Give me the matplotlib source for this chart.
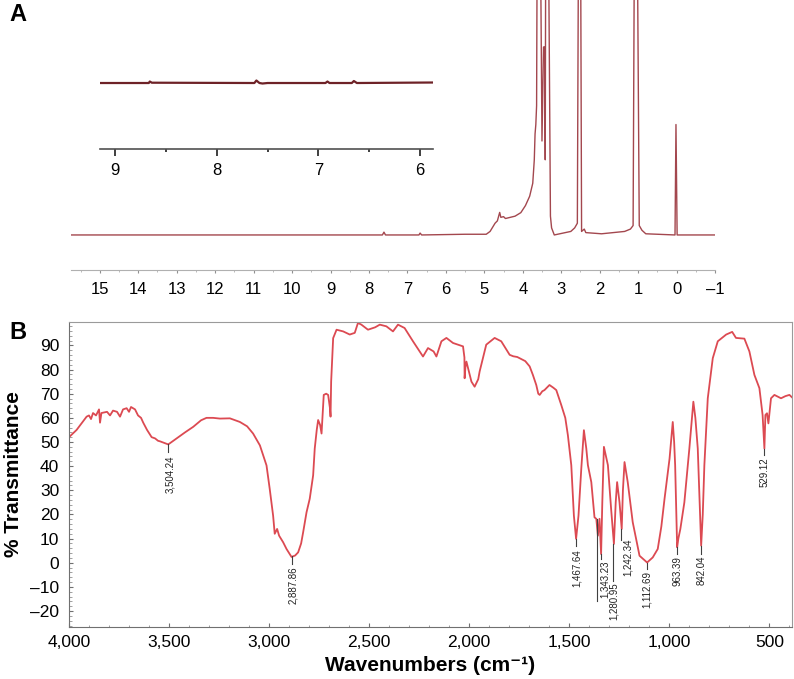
import matplotlib
matplotlib.use("Agg")
import matplotlib.pyplot as plt
from matplotlib.ticker import MultipleLocator, FuncFormatter

plt.rcParams['font.family'] = ['Liberation Sans', 'DejaVu Sans']

# ---- panel A: 1H NMR (chemical shift in ppm, relative intensity, 100 = top of frame)
nmr_shift = [15.75, 9.0, 7.65, 7.61, 7.57, 6.70, 6.67, 6.63, 5.5, 4.95, 4.85, 4.72, 4.66,
             4.60, 4.57, 4.50, 4.45, 4.35, 4.20, 4.05, 3.93, 3.82, 3.74, 3.70, 3.68, 3.66,
             3.64, 3.62, 3.55, 3.50, 3.46, 3.43, 3.415, 3.40, 3.34, 3.28, 3.25, 3.18,
             2.75, 2.65, 2.58, 2.545, 2.50, 2.47, 2.40, 2.36, 1.95, 1.35, 1.20, 1.13,
             1.09, 1.03, 0.97, 0.90, 0.80, 0.04, 0.015, -0.015, -1.0]
nmr_int = [0, 0, 0, 1.2, 0, 0, 0.8, 0, 0.3, 0.3, 1.5, 5.0, 6.0,
           9.6, 7.5, 7.8, 7.0, 7.4, 8.0, 9.5, 12.5, 16.5, 22, 32, 43, 47,
           55, 150, 150, 40, 80, 80, 32, 150, 150, 8, 3, 0,
           1.5, 3, 5, 150, 150, 1.5, 2.5, 1, 0.5, 1.5, 2.5, 4,
           150, 150, 4, 2, 0.5, 0, 47, 0, 0]

# inset: expanded 9.15-5.87 ppm region
inset_shift = [9.15, 8.67, 8.66, 8.64, 7.63, 7.61, 7.58, 7.55, 7.50, 6.93, 6.91,
               6.89, 6.67, 6.65, 6.62, 5.87]
inset_int = [0, 0, 1.5, 0.3, 0, 2.5, 0, -0.5, 0, 0, 1.5, 0, 0, 2, 0, 0.5]

# ---- panel B: FTIR spectrum
ir_wn = [4000, 3962, 3930, 3912, 3900, 3890, 3880, 3865, 3850, 3845, 3838, 3810, 3795,
         3780, 3760, 3745, 3730, 3712, 3700, 3690, 3670, 3655, 3640, 3629, 3610, 3595,
         3587, 3570, 3555, 3546, 3520, 3504, 3462, 3420, 3379, 3340, 3313, 3280, 3246,
         3196, 3146, 3110, 3080, 3046, 3013, 2997, 2980, 2972, 2960, 2950, 2930, 2913,
         2888, 2870, 2855, 2840, 2830, 2813, 2797, 2780, 2772, 2762, 2755, 2745, 2738,
         2732, 2727, 2715, 2705, 2696, 2693, 2690, 2680, 2663, 2630, 2597, 2572, 2556,
         2539, 2506, 2470, 2447, 2414, 2381, 2356, 2323, 2281, 2231, 2206, 2178, 2164,
         2139, 2114, 2081, 2045, 2031, 2024, 2023, 2019, 2014, 1989, 1973, 1955, 1948,
         1915, 1873, 1840, 1820, 1798, 1780, 1760, 1748, 1720, 1698, 1682, 1665, 1655,
         1648, 1635, 1624, 1599, 1580, 1565, 1555, 1540, 1520, 1507, 1490, 1477, 1466,
         1454, 1440, 1427, 1415, 1407, 1390, 1374, 1365, 1357, 1349, 1341, 1335, 1327,
         1307, 1291, 1277, 1268, 1261, 1249, 1238, 1232, 1224, 1208, 1183, 1149, 1130,
         1111, 1083, 1070, 1058, 1040, 1024, 999, 983, 976, 971, 961, 955, 945, 925,
         900, 880, 870, 858, 841, 833, 825, 808, 783, 758, 716, 686, 667, 625, 600,
         575, 550, 534, 525, 520, 512, 505, 492, 475, 442, 420, 400, 387]
ir_t = [52, 55, 58.5, 60.5, 61, 59.5, 62, 61, 63.5, 58, 62, 62.5, 61,
        63, 62.5, 60.5, 63.5, 64, 62.5, 64.5, 63.5, 61, 60, 58, 55, 53,
        52, 51.5, 50.5, 50.3, 49.5, 49, 51.5, 54, 56.3, 59, 60, 60, 59.7,
        59.8, 58.3, 56.5, 53.5, 48.6, 40.3, 30.6, 19.5, 12, 14, 11.2, 8.5, 5.7,
        2.4, 3, 4.3, 8, 12.6, 20.9, 26.5, 36.2, 47.3, 55, 59.1, 57, 53.5,
        62, 69.5, 70, 69.5, 64, 60.5, 75, 93, 96.5, 95.8, 94.5, 95.2, 99.3,
        98.6, 96.5, 97.5, 98.6, 97.9, 95.8, 98.6, 97.2, 91.7, 85.4, 88.9, 87.5, 85.4,
        91.7, 93.1, 91, 90, 89.6, 85, 76.4, 81, 83.3, 75, 72.9, 76, 79.2,
        90.3, 93.1, 91.7, 89, 86.1, 85.5, 85.2, 84.7, 83.5, 81.3, 77.8, 73.6, 70,
        69.5, 71, 71.5, 73.6, 72.5, 71.5, 69, 65.3, 60, 52.8, 40.4, 19.5, 9.9,
        19.5, 39, 54.9, 47.3, 40.4, 33.4, 18.8, 18.2, 11.2, 18.2, 3.6, 25, 48,
        40.4, 22.3, 7.8, 25, 33.4, 25, 14, 30, 41.7, 33.4, 16.8, 2.9, 1.5,
        0.1, 2.2, 4, 5.7, 15, 26.5, 43.1, 58.3, 50, 40.4, 6.4, 10, 14, 25,
        47.3, 66.7, 60, 47.3, 7.1, 20, 40.4, 68.1, 84.7, 91.7, 94.5, 95.6, 93.1, 92.8, 87.5,
        77.8, 72.3, 61.2, 47.3, 61.2, 61.9, 57.7, 68.1, 69.5, 68.1, 69, 69.5, 68.5]

peak_wn = [3504.24, 2887.86, 1467.64, 1343.23, 1280.95, 1242.34, 1112.69, 963.39, 842.04, 529.12]
peak_labels = ['3,504.24', '2,887.86', '1,467.64', '1,343.23', '1,280.95',
               '1,242.34', '1,112.69', '963.39', '842.04', '529.12']
# label placement: leader top, leader bottom, text x, text top
lead_top = [49.0, 2.6, 9.9, 3.6, 7.8, 14.0, 0.1, 6.4, 7.1, 47.3]
lead_bot = [45.9, -0.5, 7.1, 1.5, -7.5, 9.6, -2.6, 3.6, 3.6, 44.5]
text_x = [3496, 2880, 1460, 1324, 1277, 1208, 1111, 961, 841, 525]
text_y = [44.5, -1.3, 5.7, 0.8, -8.2, 10.1, -3.3, 2.9, 2.9, 43.8]

fig = plt.figure(figsize=(7.94, 6.79), dpi=100)

# --- A main
axA = fig.add_axes([0.0894, 0.6024, 0.8111, 0.3976])
axA.plot(nmr_shift, nmr_int, color='#a3474e', lw=1.0)
axA.set_xlim(15.75, -1.0)
axA.set_ylim(-14.9, 100)
for s in ['top', 'right', 'left']:
    axA.spines[s].set_visible(False)
axA.spines['bottom'].set_color('#b0b0b0')
axA.set_yticks([])
axA.xaxis.set_major_locator(MultipleLocator(1))
axA.xaxis.set_minor_locator(MultipleLocator(0.5))
axA.tick_params(axis='x', which='major', direction='out', length=2.5, color='#909090',
                labelsize=12, pad=6)
axA.tick_params(axis='x', which='minor', direction='out', length=1.5, color='#b0b0b0')
axA.xaxis.set_major_formatter(FuncFormatter(lambda v, p: f"{int(round(v))}".replace('-', '\u2013')))

# --- A inset
axI = fig.add_axes([0.126, 0.7806, 0.4194, 0.131])
axI.plot(inset_shift, inset_int, color='#6e2227', lw=1.6)
axI.set_xlim(9.15, 5.87)
axI.set_ylim(-66, 23)
axI.patch.set_alpha(0)
for s in ['top', 'right', 'left']:
    axI.spines[s].set_visible(False)
axI.spines['bottom'].set_color('#505050')
axI.spines['bottom'].set_linewidth(1.2)
axI.set_yticks([])
axI.xaxis.set_major_locator(MultipleLocator(1))
axI.xaxis.set_minor_locator(MultipleLocator(0.5))
axI.tick_params(axis='x', which='major', direction='out', length=5, width=1.3,
                color='#303030', labelsize=12, pad=5)
axI.tick_params(axis='x', which='minor', direction='out', length=2, width=1.3, color='#303030')

fig.text(0.012, 0.995, 'A', fontsize=17, fontweight='bold', va='top', ha='left')

# --- B
axB = fig.add_axes([0.0869, 0.0766, 0.9106, 0.4492])
axB.plot(ir_wn, ir_t, color='#dc4a52', lw=1.3)
axB.set_xlim(4000, 387)
axB.set_ylim(-26.6, 99.7)
axB.xaxis.set_major_locator(MultipleLocator(500))
axB.xaxis.set_minor_locator(MultipleLocator(100))
axB.yaxis.set_minor_locator(MultipleLocator(2))
axB.set_yticks(range(-20, 100, 10))
axB.xaxis.set_major_formatter(FuncFormatter(lambda v, p: f"{int(v):,}"))
axB.yaxis.set_major_formatter(FuncFormatter(lambda v, p: f"{int(v)}".replace('-', '\u2013')))
axB.tick_params(which='major', direction='in', length=3, color='#707070', labelsize=12.5)
axB.tick_params(axis='x', which='major', pad=6)
axB.tick_params(axis='y', which='major', pad=7)
axB.tick_params(which='minor', direction='in', length=1.8, color='#909090')
for s in ['top', 'right']:
    axB.spines[s].set_color('#9a9a9a')
for s in ['left', 'bottom']:
    axB.spines[s].set_color('#707070')

for wn, lab, t0, t1, tx, ty in zip(peak_wn, peak_labels, lead_top, lead_bot, text_x, text_y):
    axB.plot([wn, wn], [t0, t1], color='#404040', lw=0.8)
    axB.text(tx, ty, lab, rotation=90, ha='center', va='top', fontsize=7, color='#222222')
# unlabeled leader in the 1,360 cluster
axB.plot([1360, 1360], [18.2, -15.8], color='#404040', lw=0.8)

axB.set_xlabel('Wavenumbers (cm\u207b\u00b9)', fontsize=15, fontweight='bold', labelpad=4)
axB.set_ylabel('% Transmittance', fontsize=15, fontweight='bold', labelpad=5)
fig.text(0.012, 0.527, 'B', fontsize=17, fontweight='bold', va='top', ha='left')

fig.savefig('out.png', dpi=100)
